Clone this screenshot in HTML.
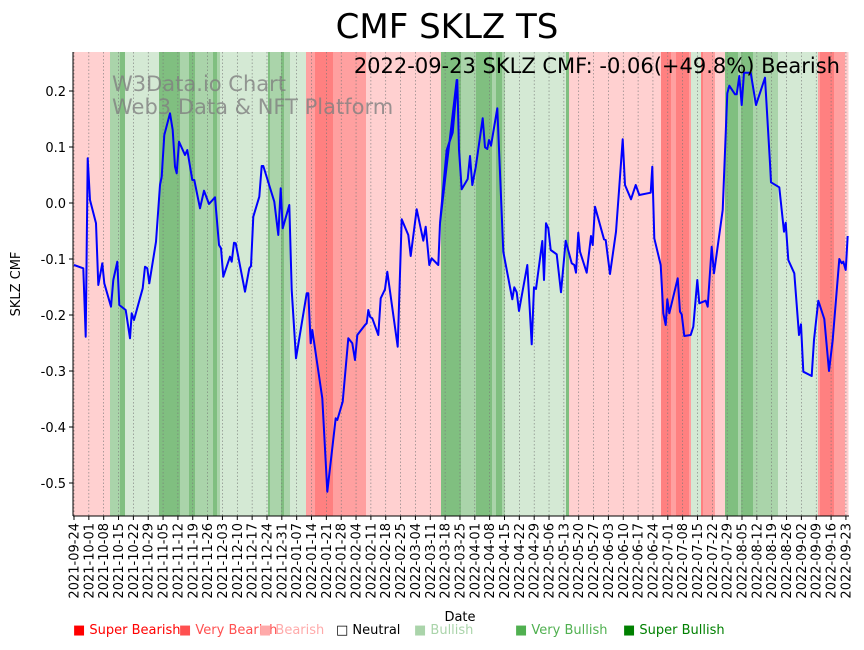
<!DOCTYPE html>
<html><head><meta charset="utf-8"><style>
body{margin:0;background:#fff;width:864px;height:646px;overflow:hidden;font-family:"DejaVu Sans","Liberation Sans",sans-serif}
</style></head><body>
<svg id="s" width="864" height="646" xmlns="http://www.w3.org/2000/svg" font-family="DejaVu Sans, Liberation Sans, sans-serif">
<g id="bands"></g>
<g id="grid"></g>
<text x="112" y="91" font-size="21" fill="#808080" fill-opacity="0.8">W3Data.io Chart</text>
<text x="112" y="114" font-size="21" fill="#808080" fill-opacity="0.8">Web3 Data &amp; NFT Platform</text>
<path id="line" fill="none" stroke="#0000ff" stroke-width="2" stroke-linejoin="round"/>
<text x="840" y="73" font-size="21" text-anchor="end">2022-09-23 SKLZ CMF: -0.06(+49.8%) Bearish</text>
<line x1="73" y1="52" x2="73" y2="516" stroke="#000" stroke-width="1"/>
<line x1="73" y1="516" x2="849" y2="516" stroke="#000" stroke-width="1"/>
<g id="ticks" font-size="13"></g>
<text x="447" y="38" font-size="34" text-anchor="middle">CMF SKLZ TS</text>
<text x="20" y="284" font-size="13" text-anchor="middle" transform="rotate(-90 20 284)">SKLZ CMF</text>
<text x="460" y="621" font-size="13" text-anchor="middle">Date</text>
<g font-size="13">
<text x="73" y="634" fill="#ff0000">■ Super Bearish</text>
<text x="179" y="634" fill="#ff5050">■ Very Bearish</text>
<text x="259" y="634" fill="#ffaaaa">■ Bearish</text>
<text x="336" y="634" fill="#000">□ Neutral</text>
<text x="414" y="634" fill="#aad4aa">■ Bullish</text>
<text x="515" y="634" fill="#50b050">■ Very Bullish</text>
<text x="623" y="634" fill="#008000">■ Super Bullish</text>
</g>
</svg>
<script>
var NS="http://www.w3.org/2000/svg";
function el(p,t,a,txt){var e=document.createElementNS(NS,t);for(var k in a)e.setAttribute(k,a[k]);if(txt)e.textContent=txt;document.getElementById(p).appendChild(e);return e;}
var LR="#ffd0d0",MR="#ffa0a0",SR="#ff8080",LG="#d4e9d4",MG="#aad4aa",DG="#80bf80";
var B=[[73,110,LR],[110,120,MG],[120,125,DG],[125,159,LG],[159,180,DG],[180,189,MG],[189,195,DG],[195,213,MG],[213,217,DG],[217,220,MG],[220,268,LG],[268,270,DG],[270,281,MG],[281,284,DG],[284,290,MG],[290,306,LG],[306,315,MR],[315,333,SR],[333,361,MR],[361,366,MR],[366,441,LR],[441,461,DG],[461,476,MG],[476,492,DG],[492,496,MG],[496,502,DG],[502,505,MG],[505,566,LG],[566,569,DG],[569,661,LR],[661,671,SR],[671,676,MR],[676,689,SR],[689,691,MR],[691,701,LG],[701,703,SR],[703,715,MR],[715,725,LR],[725,738,DG],[738,741,MG],[741,753,DG],[753,778,MG],[778,818,LG],[818,820,MR],[820,834,SR],[834,845,MR],[845,848,LR]];
B.forEach(function(b){el("bands","rect",{x:b[0],y:52,width:b[1]-b[0]+0.5,height:464,fill:b[2]});});
var z1=[[42,645],[70,655],[77,860],[83,325],[90,450],[108,520],[115,705],[127,640],[133,700],[153,770],[160,690],[172,635],[178,765],[197,780],[210,865],[215,790],[222,810],[248,715],[255,650],[262,655],[268,700],[288,575],[300,405],[305,380],[313,255],[330,190],[338,240],[345,350],[350,370],[357,275],[375,315],[382,300],[397,390],[403,390],[420,475],[432,422],[447,462],[465,442],[477,585],[483,595],[490,680],[510,620],[515,635],[522,578],[527,580],[555,725],[568,655],[573,648],[580,500],[598,440],[605,348],[610,348],[643,455],[655,555],[662,415],[668,535],[688,465],[695,720],[708,925],[740,730],[745,730],[752,880],[757,840],[787,1045],[802,1325],[827,1105],[832,1110],[848,1055],[865,865],[877,880],[885,930],[892,855],[915,825],[920,820],[925,780],[930,800],[937,805],[955,855],[962,745],[975,718],[982,665],[1013,890],[1025,508],[1045,555],[1052,618],[1070,478],[1090,572],[1097,530],[1108,645],[1115,625],[1135,645],[1140,520],[1160,300],[1178,245],[1190,90]];
var z2=[[0,520],[10,410],[20,300],[38,248],[52,90],[57,300],[65,418],[83,387],[90,318],[97,405],[107,352],[128,205],[135,292],[142,297],[147,270],[153,287],[172,175],[190,605],[217,748],[223,712],[230,727],[237,783],[262,645],[275,883],[282,712],[288,717],[307,573],[312,690],[318,520],[325,535],[332,600],[350,613],[363,727],[377,572],[395,640],[403,645],[408,668],[415,548],[420,605],[440,668],[453,558],[458,585],[465,470],[492,568],[497,570],[510,672],[528,545],[538,410],[548,268],[555,405],[573,448],[587,405],[598,435],[632,428],[637,350],[643,565],[662,645],[670,790],[677,825],[682,748],[688,790],[713,685],[720,785],[725,793],[733,858],[752,855],[760,830],[772,690],[778,760],[797,752],[803,770],[815,590],[822,670],[848,480],[862,130],[868,107],[885,133],[890,133],[898,78],[905,165],[912,68],[932,68],[948,165],[975,83],[990,340],[993,397],[1018,412],[1032,545],[1037,518],[1045,630],[1063,670],[1077,855],[1083,823],[1090,965],[1115,978],[1122,870],[1135,752],[1153,807],[1167,963],[1178,870],[1198,627],[1205,640],[1210,635],[1217,660],[1223,558]];
var pts=z1.map(function(p){return (60+p[0]/3).toFixed(1)+","+(50+p[1]/3).toFixed(1);}).concat(z2.map(function(p){return (440+p[0]/3).toFixed(1)+","+(50+p[1]/3).toFixed(1);}));
document.getElementById("line").setAttribute("d","M"+pts.join(" L"));
for(var i=0;i<8;i++){var v=0.2-i*0.1;var y=203-v*560;
el("ticks","line",{x1:69,y1:y,x2:73,y2:y,stroke:"#000"});
el("ticks","text",{x:66,y:y+5,"text-anchor":"end"},(Math.abs(v)<1e-9?"0.0":v.toFixed(1)));}
var d0=new Date(Date.UTC(2021,8,24));
for(var i=0;i<53;i++){var x=74+i*774/52.14;var d=new Date(d0.getTime()+i*7*86400000);
var s=d.getUTCFullYear()+"-"+("0"+(d.getUTCMonth()+1)).slice(-2)+"-"+("0"+d.getUTCDate()).slice(-2);
el("grid","line",{x1:x,y1:52,x2:x,y2:516,stroke:"#777","stroke-width":0.6,"stroke-dasharray":"1.5,2"});
el("ticks","line",{x1:x,y1:516,x2:x,y2:520,stroke:"#000"});
el("ticks","text",{x:x+4.5,y:523,"text-anchor":"end",transform:"rotate(-90 "+(x+4.5)+" 523)"},s);}
</script>
</body></html>
